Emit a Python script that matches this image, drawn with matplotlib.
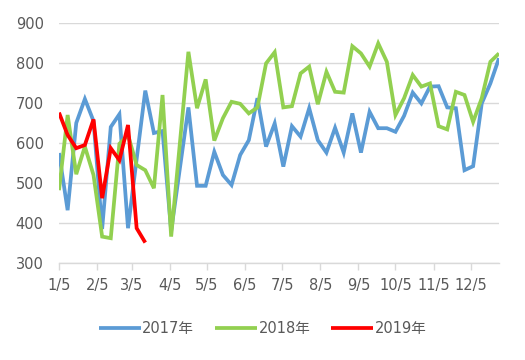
import matplotlib
matplotlib.use("Agg")
import matplotlib.pyplot as plt
import pandas as pd

plt.rcParams['font.family'] = ['DejaVu Sans', 'Noto Sans CJK SC']

# Weekly dates (shared category axis)
week_dates = pd.date_range('2017-01-05', periods=52, freq='7D')

v2017 = [575, 432, 650, 710, 655, 385, 640, 672, 387, 560,
         731, 625, 630, 380, 535, 689, 493, 493, 578, 520,
         495, 570, 607, 712, 591, 649, 541, 642, 616, 687,
         607, 576, 638, 576, 674, 576, 678, 637, 637, 628,
         668, 726, 699, 741, 742, 689, 687, 532, 542, 699,
         749, 812]
v2018 = [482, 670, 522, 591, 520, 366, 362, 598, 620, 545,
         532, 487, 720, 366, 597, 828, 687, 759, 606, 662,
         703, 698, 674, 689, 799, 827, 689, 692, 774, 791,
         697, 778, 728, 726, 842, 824, 791, 849, 803, 670,
         712, 770, 741, 749, 642, 634, 728, 720, 653, 712,
         803, 824]
v2019 = [676, 620, 587, 595, 659, 462, 587, 557, 645, 387, 351]

series_names = ['2017年', '2018年', '2019年']
series_colors = ['#5B9BD5', '#92D050', '#FF0000']

tick_months = list(range(1, 13))
tick_labels = [f'{m}/5' for m in tick_months]
y_ticks = [300, 400, 500, 600, 700, 800, 900]

fig = plt.figure(figsize=(5.25, 3.6), dpi=100)
ax = fig.add_axes([59/525, 1-263/360, (499-59)/525, (263-23)/360])

for vals, name, col in zip([v2017, v2018, v2019], series_names, series_colors):
    ax.plot(week_dates[:len(vals)], vals, color=col, lw=2.7, label=name,
            solid_joinstyle='miter', solid_capstyle='butt')

ax.set_ylim(300, 900)
ax.set_yticks(y_ticks)
ax.set_xlim(week_dates[0], week_dates[-1])
tick_dates = [pd.Timestamp(2017, m, 5) for m in tick_months]
ax.set_xticks(tick_dates)
ax.set_xticklabels(tick_labels)

grid_c = '#D9D9D9'
text_c = '#595959'
ax.grid(axis='y', color=grid_c, lw=1)
ax.set_axisbelow(True)
for s in ['left', 'right', 'top']:
    ax.spines[s].set_visible(False)
ax.spines['bottom'].set_color(grid_c)
ax.spines['bottom'].set_linewidth(1)
ax.tick_params(axis='y', length=0, pad=11, labelsize=10.5, labelcolor=text_c)
ax.tick_params(axis='x', length=5, width=1, color=grid_c, pad=6, labelsize=10.5, labelcolor=text_c)

fig.legend(loc='center', bbox_to_anchor=(0.5, 1-329/360), ncol=3, frameon=False,
           fontsize=10.5, handlelength=2.9, handletextpad=0.1, columnspacing=1.4,
           labelcolor=text_c)

fig.savefig('out.png', dpi=100)
